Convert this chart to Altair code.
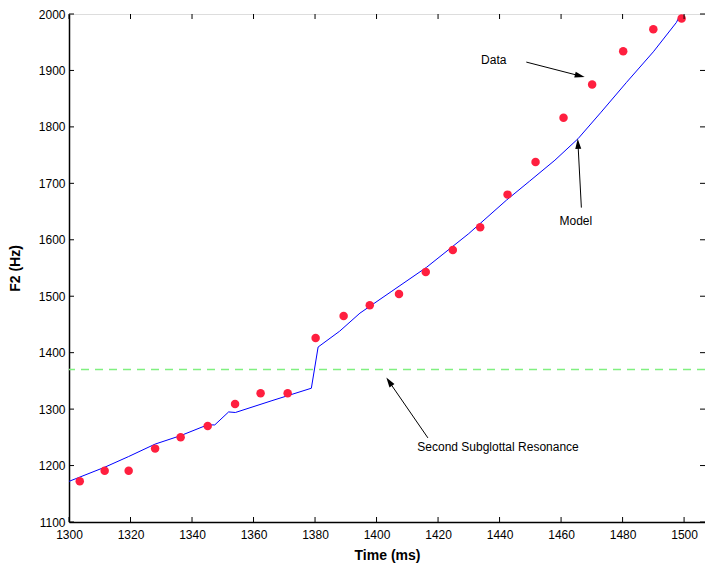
import altair as alt
import pandas as pd

# Measured data points (Time ms, F2 Hz)
data_t = [1303.5, 1311.6, 1319.4, 1328.0, 1336.3, 1345.1, 1354.0, 1362.3, 1371.1, 1380.2,
          1389.3, 1397.8, 1407.3, 1416.0, 1424.8, 1433.7, 1442.6, 1451.7, 1460.8, 1470.1,
          1480.2, 1490.0, 1499.2]
data_f = [1172, 1191, 1191, 1230, 1250, 1270, 1309, 1328, 1328, 1426,
          1465, 1484, 1504, 1543, 1582, 1622, 1680, 1738, 1816, 1875,
          1934, 1973, 1992]

# Model curve
model_t = [1300, 1311.6, 1319.4, 1328, 1336.3, 1345, 1347.4, 1351.9, 1354.1, 1366,
           1378.8, 1381, 1388, 1394.6, 1405, 1416.2, 1430, 1442.2, 1449.8, 1458,
           1465.5, 1473, 1481.3, 1490, 1497.5, 1498.6]
model_f = [1172, 1197, 1216, 1238, 1253, 1272, 1272, 1295, 1294, 1315,
           1337, 1410, 1438, 1470, 1509, 1551, 1611, 1670, 1704, 1741,
           1779, 1826, 1879, 1933, 1985, 1997]

subglottal_f = [1370]

x_ticks = list(range(1300, 1501, 20))
y_ticks = list(range(1100, 2001, 100))

# Annotations
ann_text = ["Data", "Model", "Second Subglottal Resonance"]
ann_tx = [1438.1, 1464.8, 1439.5]
ann_ty = [1918.2, 1632.4, 1233.6]
arrow_x1 = [1448.7, 1466.6, 1416.7]
arrow_y1 = [1914.8, 1657.0, 1249.0]
arrow_x2 = [1466.1, 1465.5, 1404.1]
arrow_y2 = [1890.4, 1770.0, 1348.6]
arrow_angle = [104.4, 357.0, 325.5]

W, H = 636, 508
FONT = "Liberation Sans"

xs = alt.Scale(domain=[1300, 1506.8], nice=False, zero=False)
ys = alt.Scale(domain=[1100, 2000], nice=False, zero=False)

pts = pd.DataFrame({"t": data_t, "f": data_f})
mdl = pd.DataFrame({"t": model_t, "f": model_f, "o": range(len(model_t))})
sub = pd.DataFrame({"f": subglottal_f})
ann = pd.DataFrame({"text": ann_text, "tx": ann_tx, "ty": ann_ty,
                    "x1": arrow_x1, "y1": arrow_y1, "x2": arrow_x2, "y2": arrow_y2,
                    "ang": arrow_angle})
xt = pd.DataFrame({"v": x_ticks})
yt = pd.DataFrame({"v": y_ticks})

xaxis = alt.Axis(values=x_ticks, title="Time (ms)", grid=False, tickSize=0, labelPadding=7,
                 labelFlush=False, labelOverlap=False,
                 labelFontSize=12, labelFont=FONT, labelColor="black", titleFont=FONT,
                 titleFontSize=14, titleFontWeight="bold", titleColor="black", titlePadding=8,
                 domainColor="black", domainWidth=1.5, format="d")
yaxis = alt.Axis(values=y_ticks, title="F2 (Hz)", grid=False, tickSize=0, labelPadding=4,
                 labelFlush=False, labelOverlap=False,
                 labelFontSize=12, labelFont=FONT, labelColor="black", titleFont=FONT,
                 titleFontSize=14, titleFontWeight="bold", titleColor="black", titlePadding=16,
                 domainColor="black", domainWidth=1.5, format="d")

line = alt.Chart(mdl).mark_line(color="#0000ff", strokeWidth=1).encode(
    x=alt.X("t:Q", scale=xs, axis=xaxis),
    y=alt.Y("f:Q", scale=ys, axis=yaxis),
    order="o:Q")

dots = alt.Chart(pts).mark_circle(color="#ff1f3f", opacity=1, size=72).encode(
    x=alt.X("t:Q", scale=xs), y=alt.Y("f:Q", scale=ys))

hline = alt.Chart(sub).mark_rule(color="#80f080", strokeWidth=1.5, strokeDash=[8, 6]).encode(
    y=alt.Y("f:Q", scale=ys))

arrows = alt.Chart(ann).mark_rule(color="black", strokeWidth=1).encode(
    x=alt.X("x1:Q", scale=xs), y=alt.Y("y1:Q", scale=ys), x2="x2:Q", y2="y2:Q")

heads = alt.Chart(ann).mark_point(shape="M0,-1L0.6,1L-0.6,1Z", filled=True, color="black",
                                  opacity=1, size=100, strokeWidth=0).encode(
    x=alt.X("x2:Q", scale=xs), y=alt.Y("y2:Q", scale=ys), angle=alt.Angle("ang:Q", scale=None))

texts = alt.Chart(ann).mark_text(font=FONT, fontSize=12, color="black", align="center",
                                 baseline="middle").encode(
    x=alt.X("tx:Q", scale=xs), y=alt.Y("ty:Q", scale=ys), text="text:N")

tick_b = alt.Chart(xt).mark_rule(color="black", strokeWidth=1).encode(
    x=alt.X("v:Q", scale=xs), y=alt.value(H), y2=alt.value(H - 5))
tick_t = alt.Chart(xt).mark_rule(color="black", strokeWidth=1).encode(
    x=alt.X("v:Q", scale=xs), y=alt.value(0), y2=alt.value(5))
tick_l = alt.Chart(yt).mark_rule(color="black", strokeWidth=1).encode(
    y=alt.Y("v:Q", scale=ys), x=alt.value(0), x2=alt.value(5))
tick_r = alt.Chart(yt).mark_rule(color="black", strokeWidth=1).encode(
    y=alt.Y("v:Q", scale=ys), x=alt.value(W), x2=alt.value(W - 5))

chart = alt.layer(hline, line, dots, arrows, heads, texts, tick_b, tick_t, tick_l, tick_r).properties(
    width=W, height=H,
    autosize=alt.AutoSizeParams(type="none"),
    padding={"left": 61, "top": 6, "right": 0, "bottom": 43},
).configure_view(stroke="black", strokeWidth=1.5).configure(background="white")

chart.save("out.html", embed_options={"renderer": "svg", "actions": False})
